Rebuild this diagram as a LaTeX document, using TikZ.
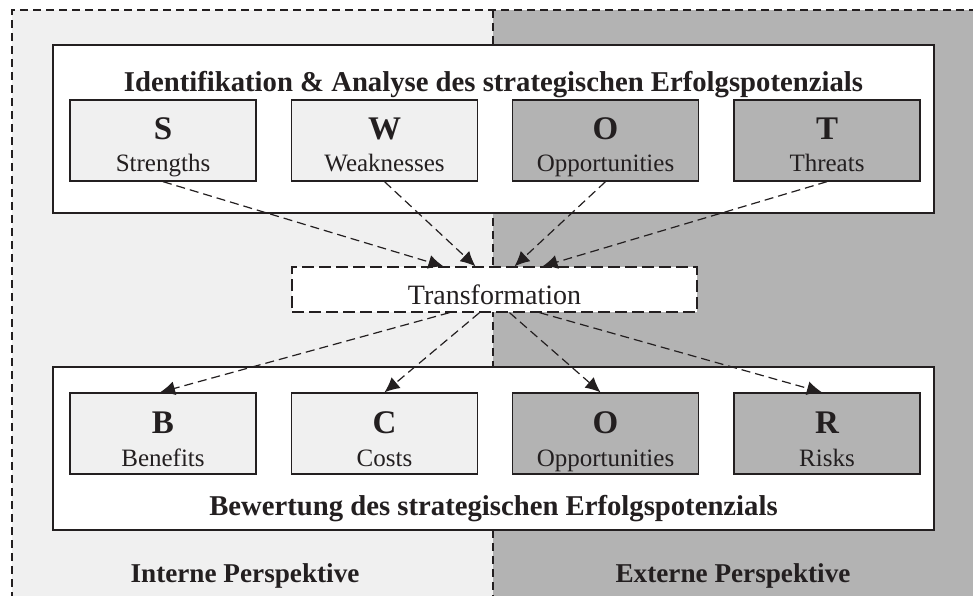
\documentclass[tikz,border=0pt]{standalone}
\usepackage{fontspec}
\setmainfont{Liberation Serif}
\usetikzlibrary{arrows.meta}
\definecolor{lightpanel}{HTML}{F0F0F0}
\definecolor{darkpanel}{HTML}{B3B3B3}
\definecolor{ink}{HTML}{231F20}
\tikzset{
  frame/.style={draw=ink, line width=1.2pt, dash pattern=on 8pt off 5pt},
  group/.style={draw=ink, line width=1.3pt, fill=white, rectangle, inner sep=0pt},
  cell/.style={draw=ink, line width=1.3pt, rectangle, inner sep=0pt,
    minimum width=186pt, minimum height=81pt},
  cellin/.style={cell, fill=lightpanel},
  cellex/.style={cell, fill=darkpanel},
  letter/.style={anchor=base, text=ink, font=\fontsize{33}{36}\selectfont\bfseries, inner sep=0pt},
  word/.style={anchor=base, text=ink, font=\fontsize{25}{28}\selectfont, inner sep=0pt},
  heading/.style={anchor=base, text=ink, font=\fontsize{28.7}{32}\selectfont\bfseries, inner sep=0pt},
  persp/.style={anchor=base, text=ink, font=\fontsize{27.2}{31}\selectfont\bfseries, inner sep=0pt},
  flow/.style={draw=ink, line width=1.2pt, dash pattern=on 9pt off 5pt,
    -{Latex[length=15pt,width=14pt]}},
  transbox/.style={draw=ink, line width=1.3pt, dash pattern=on 12pt off 5pt, fill=white,
    rectangle, inner sep=0pt, minimum width=405pt, minimum height=45pt},
}
\begin{document}
\begin{tikzpicture}[x=1pt,y=-1pt]
\useasboundingbox (0,0) rectangle (973,595);
% background panels
\fill[lightpanel] (12,10) rectangle (493,600);
\fill[darkpanel] (493,10) rectangle (980,600);
\draw[frame] (12,600) -- (12,10) -- (980,10);
\draw[frame] (493,10) -- (493,600);

% analysis group
\node[group, minimum width=881pt, minimum height=168pt] (top) at (493.5,129) {};
\node[heading] (toptitle) at (493.5,91) {Identifikation \& Analyse des strategischen Erfolgspotenzials};

\node[cellin] (s) at (163,140.5) {};
\node[cellin] (w) at (384.5,140.5) {};
\node[cellex] (o1) at (605.5,140.5) {};
\node[cellex] (t) at (827,140.5) {};
\foreach \n/\l/\t in {s/S/Strengths, w/W/Weaknesses, o1/O/Opportunities, t/T/Threats}{
  \node[letter] (\n-l) at ([yshift=1.5pt]\n.center) {\l};
  \node[word] (\n-t) at ([yshift=-30.5pt]\n.center) {\t};
}

% transformation
\node[transbox] (tr) at (494.5,289.5) {};
\node[anchor=base, text=ink, font=\fontsize{28}{32}\selectfont, inner sep=0pt] (trl) at (494.5,304) {Transformation};

% evaluation group
\node[group, minimum width=881pt, minimum height=163pt] (bot) at (493.5,448.5) {};
\node[heading] (bottitle) at (493.5,515) {Bewertung des strategischen Erfolgspotenzials};

\node[cellin] (b) at (163,433.5) {};
\node[cellin] (c) at (384.5,433.5) {};
\node[cellex] (o2) at (605.5,433.5) {};
\node[cellex] (r) at (827,433.5) {};
\foreach \n/\l/\t in {b/B/Benefits, c/C/Costs, o2/O/Opportunities, r/R/Risks}{
  \node[letter] (\n-l) at ([yshift=0.5pt]\n.center) {\l};
  \node[word] (\n-t) at ([yshift=-32.5pt]\n.center) {\t};
}

% flows into and out of the transformation
\draw[flow] (s.south) -- ([xshift=-51pt]tr.north);
\draw[flow] (w.south) -- ([xshift=-19pt]tr.north);
\draw[flow] (o1.south) -- ([xshift=20pt]tr.north);
\draw[flow] (t.south) -- ([xshift=48pt]tr.north);

\draw[flow] ([xshift=-45pt]tr.south) -- ([xshift=-3pt]b.north);
\draw[flow] ([xshift=-15pt]tr.south) -- (c.north);
\draw[flow] ([xshift=15pt]tr.south) -- ([xshift=-5pt]o2.north);
\draw[flow] ([xshift=45pt]tr.south) -- ([xshift=-5pt]r.north);

% perspective labels
\node[persp] (intern) at (245,582) {Interne Perspektive};
\node[persp] (extern) at (733,582) {Externe Perspektive};
\end{tikzpicture}
\end{document}
